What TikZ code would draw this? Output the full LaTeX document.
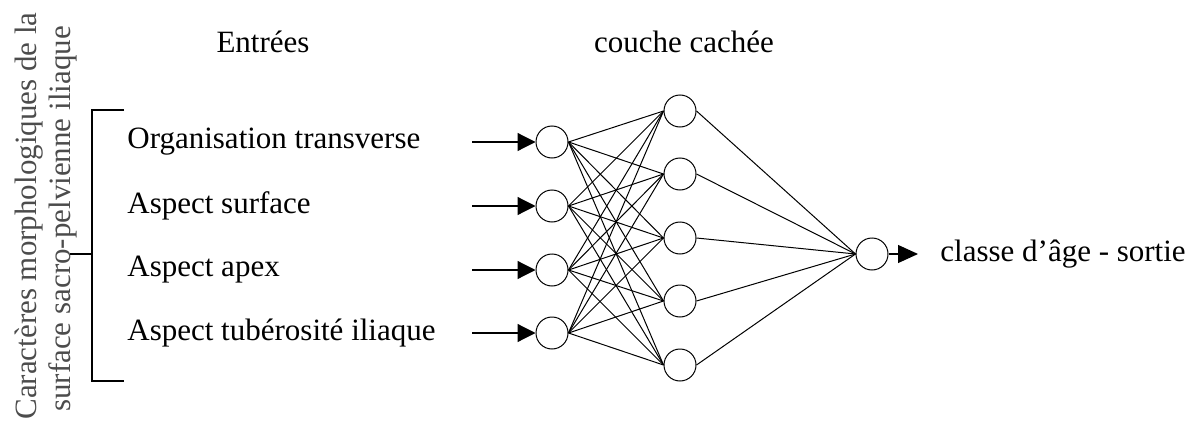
\documentclass[tikz,border=0pt]{standalone}
\usepackage{fontspec}
\setmainfont{Liberation Serif}
\usetikzlibrary{arrows.meta}
\begin{document}
\begin{tikzpicture}[x=0.5pt,y=-0.5pt,
  neuron/.style={circle,draw,line width=0.5pt,minimum size=16pt,inner sep=0pt},
  lbl/.style={inner sep=0pt,font=\fontsize{15.5pt}{17pt}\selectfont},
  edge/.style={line width=0.5pt},
  inarrow/.style={line width=0.6pt,-{Triangle[length=9pt,width=9pt]}},
  outarrow/.style={line width=0.6pt,-{Triangle[length=10pt,width=9pt]}}]
\useasboundingbox (0,0) rectangle (1195,423);
% input neurons
\foreach \i/\y in {1/142,2/206,3/270,4/333}{
  \node[neuron] (i\i) at (552,\y) {};
  \coordinate (s\i) at (472,\y);
  \draw[inarrow] (s\i) -- (i\i.west);
}
% hidden neurons
\foreach \j/\y in {1/111,2/174,3/238,4/301,5/365}{
  \node[neuron] (h\j) at (680,\y) {};
}
\node[neuron] (o) at (872,254) {};
\foreach \i in {1,...,4}{\foreach \j in {1,...,5}{\draw[edge] (i\i.east) -- (h\j.west);}}
\foreach \j in {1,...,5}{\draw[edge] (h\j.east) -- (o.west);}
\coordinate (oend) at (918,254);
\draw[outarrow] (o.east) -- (oend);
\node[lbl,anchor=west] (out) at (940,254) {classe d’âge - sortie};
% input labels
\node[lbl,anchor=west] (l1) at (127,142) {Organisation transverse};
\node[lbl,anchor=west] (l2) at (127,206) {Aspect surface};
\node[lbl,anchor=west] (l3) at (127,270) {Aspect apex};
\node[lbl,anchor=west] (l4) at (127,333) {Aspect tubérosité iliaque};
% titles
\node[lbl] (t1) at (263,42) {Entrées};
\node[lbl] (t2) at (684,42) {couche cachée};
% bracket
\draw[line width=0.6pt] (124,110) -- (92,110) -- (92,381) -- (124,381);
\draw[line width=0.6pt] (92,254) -- (70,254);
\node[lbl,text=black!70] (side1) at (29,216)
  {\rotatebox{90}{Caractères morphologiques de la}};
\node[lbl,text=black!70] (side2) at (63,219)
  {\rotatebox{90}{surface sacro-pelvienne iliaque}};
\end{tikzpicture}
\end{document}
